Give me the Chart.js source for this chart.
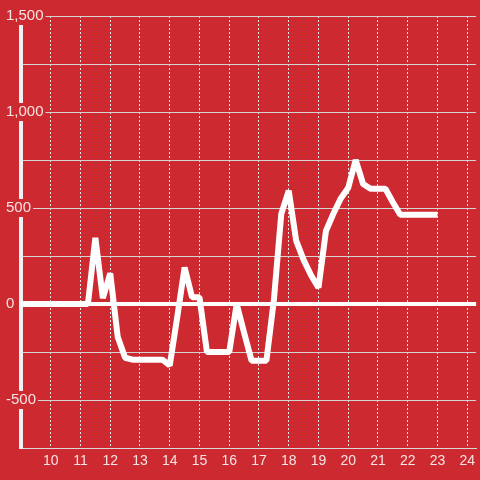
<!DOCTYPE html>
<html>
<head>
<meta charset="utf-8">
<script src="https://cdn.jsdelivr.net/npm/chart.js@4/dist/chart.umd.min.js"></script>
<style>
    html, body { margin: 0; padding: 0; background: #cc2a30; }
    #chart { display: block; }
</style>
</head>
<body>
<canvas id="chart" width="480" height="480"></canvas>
<script>
// heures (pas de 15 min)
const hours = [
    9, 9.25, 9.5, 9.75, 10, 10.25, 10.5, 10.75, 11, 11.25,
    11.5, 11.75, 12, 12.25, 12.5, 12.75, 13, 13.25, 13.5, 13.75,
    14, 14.25, 14.5, 14.75, 15, 15.25, 15.5, 15.75, 16, 16.25,
    16.5, 16.75, 17, 17.25, 17.5, 17.75, 18, 18.25, 18.5, 18.75,
    19, 19.25, 19.5, 19.75, 20, 20.25, 20.5, 20.75, 21, 21.25,
    21.5, 21.75, 22, 22.25, 22.5, 22.75, 23
];
const values = [
    0, 0, 0, 0, 0, 0, 0, 0, 0, 0,
    345, 30, 160, -170, -280, -290, -290, -290, -290, -290,
    -320, -70, 190, 35, 35, -250, -250, -250, -250, 0,
    -150, -295, -295, -295, 20, 470, 590, 330, 230, 150,
    85, 380, 470, 550, 605, 750, 625, 600, 600, 600,
    530, 465, 465, 465, 465, 465, 465
];
const yLabeled = [-500, 0, 500, 1000, 1500];

const BG = '#cc2a30';
const TEXT = '#f6e4e4';
const FONT = { family: '"Liberation Sans", Arial, sans-serif', size: 14 };

const points = hours.map((h, i) => ({ x: h, y: values[i] }));

new Chart(document.getElementById('chart').getContext('2d'), {
    type: 'line',
    data: {
        datasets: [{
            data: points,
            borderColor: '#ffffff',
            borderWidth: 6,
            borderJoinStyle: 'bevel',
            pointRadius: 0,
            tension: 0,
            fill: false
        }]
    },
    options: {
        responsive: false,
        animation: false,
        layout: { padding: { left: 5, top: 16, right: 0, bottom: 0 } },
        plugins: { legend: { display: false }, tooltip: { enabled: false } },
        scales: {
            x: {
                type: 'linear',
                min: 9,
                max: 24.3,
                afterFit: s => { s.height = 32; },
                ticks: {
                    stepSize: 1,
                    includeBounds: false,
                    maxRotation: 0,
                    padding: 5,
                    color: TEXT,
                    font: FONT,
                    callback: v => v === 9 ? '' : String(v)
                },
                grid: {
                    drawTicks: false,
                    color: ctx => ctx.tick && ctx.tick.value === 9 ? 'rgba(0,0,0,0)' : '#e6e6e6',
                    lineWidth: 1
                },
                border: { display: true, color: '#d8d8d8', width: 1, dash: [2, 2] }
            },
            y: {
                min: -750,
                max: 1500,
                afterFit: s => { s.width = 16; },
                ticks: {
                    stepSize: 250,
                    mirror: true,
                    crossAlign: 'near',
                    padding: -15,
                    color: TEXT,
                    font: { family: FONT.family, size: 15 },
                    showLabelBackdrop: true,
                    backdropColor: BG,
                    backdropPadding: { top: 0, bottom: 0, left: 1, right: 2 },
                    callback: v => yLabeled.includes(v) ? v.toLocaleString('en-US') : ''
                },
                grid: {
                    drawTicks: false,
                    color: ctx => ctx.tick && ctx.tick.value === 0 ? '#ffffff' : '#d4d4d4',
                    lineWidth: ctx => ctx.tick && ctx.tick.value === 0 ? 4 : 1
                },
                border: { display: true, color: '#f2f2f2', width: 4 }
            }
        }
    }
});
</script>
</body>
</html>
